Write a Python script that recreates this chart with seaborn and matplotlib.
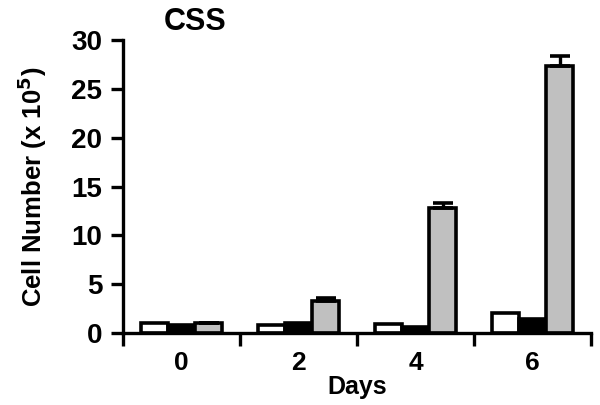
import pandas as pd
import matplotlib
matplotlib.use("Agg")
import matplotlib.pyplot as plt
import seaborn as sns

days = ["0", "2", "4", "6"]
series = ["White", "Black", "Gray"]
white_vals = [1.0, 0.8, 0.9, 2.0]
black_vals = [0.8, 1.0, 0.6, 1.45]
gray_vals = [1.0, 3.3, 12.75, 27.3]
gray_err = [0.0, 0.3, 0.6, 1.1]

colors = {"White": "white", "Black": "black", "Gray": "#c0c0c0"}

df = pd.DataFrame({
    "Days": days * 3,
    "Series": ["White"] * 4 + ["Black"] * 4 + ["Gray"] * 4,
    "Value": white_vals + black_vals + gray_vals,
})

sns.set_style("ticks")
plt.rcParams["font.family"] = ["Liberation Sans", "DejaVu Sans"]
plt.rcParams["font.weight"] = "bold"
for key in ["text.color", "axes.labelcolor", "xtick.color", "ytick.color",
            "axes.edgecolor"]:
    plt.rcParams[key] = "black"

fig = plt.figure(figsize=(6, 4.05), dpi=100)
ax = fig.add_axes([0.205, 0.178, 0.78, 0.723])

sns.barplot(data=df, x="Days", y="Value", hue="Series", hue_order=series,
            order=days, palette=colors, width=0.7, edgecolor="black",
            linewidth=2.6, legend=False, errorbar=None, ax=ax)

# error bars on gray bars (upper only)
gray_patches = ax.patches[8:12]
xs = [p.get_x() + p.get_width() / 2 for p in gray_patches]
ax.errorbar(xs, gray_vals, yerr=[[0] * 4, gray_err], fmt="none",
            ecolor="black", elinewidth=2.4, capsize=7, capthick=2.6, zorder=1)

ax.set_ylim(0, 30)
ax.set_xlim(-0.5, 3.5)
ax.set_yticks([0, 5, 10, 15, 20, 25, 30])
ax.set_xticks([-0.5, 0.5, 1.5, 2.5, 3.5])
ax.set_xticklabels([])
ax.set_xticks([0, 1, 2, 3], minor=True)
ax.set_xticklabels(days, minor=True)
ax.tick_params(axis="x", which="minor", length=0, pad=13, labelsize=19)
ax.tick_params(axis="both", which="major", length=9, width=2.4, labelsize=20)
ax.tick_params(axis="y", pad=6)

for side in ["left", "bottom"]:
    ax.spines[side].set_linewidth(2.4)
sns.despine(ax=ax)

ax.set_xlabel("Days", fontsize=18, fontweight="bold", labelpad=0)
ax.set_ylabel("Cell Number (x 10$^{\\mathbf{5}}$)", fontsize=18.5,
              fontweight="bold", labelpad=16)
fig.text(0.273, 0.945, "CSS", fontsize=22, fontweight="bold",
         ha="left", va="center")

fig.savefig("out.png", dpi=100)
